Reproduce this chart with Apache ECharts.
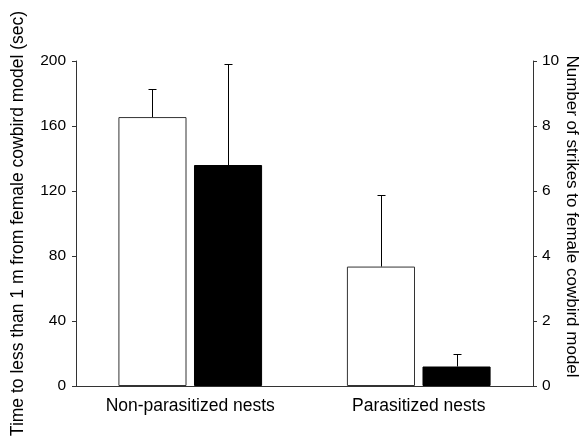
<!DOCTYPE html>
<html><head><meta charset="utf-8">
<script src="https://cdn.jsdelivr.net/npm/echarts@6/dist/echarts.min.js"></script>
<style>html,body{margin:0;padding:0;background:#fff}#c{width:582px;height:438px}</style>
</head><body><div id="c"></div>
<script>
const categories = ['Non-parasitized nests', 'Parasitized nests'];
const timeValues = [165.5, 73.5];      // left axis (sec), white bars
const timeErrors = [17.5, 44];
const strikeValues = [6.8, 0.6];      // right axis, black bars
const strikeErrors = [3.1, 0.4];
const leftTicks = [0, 40, 80, 120, 160, 200];
const rightTicks = [0, 2, 4, 6, 8, 10];

const BAR_FRAC = 0.298, GAP = 0.11;
function errRender(sign, values, errors) {
  return function (params, api) {
    const i = api.value(0);
    const band = api.size([1, 0])[0];
    const bw = band * BAR_FRAC;
    const off = sign * bw * (1 + GAP) / 2;
    const base = api.coord([i, values[i]]);
    const top = api.coord([i, values[i] + errors[i]]);
    const x = Math.round(base[0] + off) + 0.5;
    const yt = Math.round(top[1]) + 0.5;
    const st = { stroke: '#000', lineWidth: 1 };
    return { type: 'group', children: [
      { type: 'line', shape: { x1: x, y1: base[1], x2: x, y2: yt }, style: st },
      { type: 'line', shape: { x1: x - 4, y1: yt, x2: x + 4, y2: yt }, style: st }
    ]};
  };
}
const font = 'Arial, "Liberation Sans", sans-serif';
const chart = echarts.init(document.getElementById('c'));
chart.setOption({
  animation: false,
  grid: { left: 76, right: 49, top: 61, bottom: 52, containLabel: false, outerBoundsMode: 'none' },
  xAxis: { type: 'category', data: categories,
    axisLine: { lineStyle: { color: '#333' } }, axisTick: { show: false },
    axisLabel: { color: '#000', fontSize: 17.5, fontFamily: font, margin: 11 } },
  yAxis: [
    { type: 'value', min: leftTicks[0], max: leftTicks[leftTicks.length - 1], interval: 40,
      name: 'Time to less than 1 m from female cowbird model (sec)', nameLocation: 'middle', nameGap: 49,
      nameTextStyle: { color: '#000', fontSize: 17.5, fontFamily: font },
      axisLine: { show: true, lineStyle: { color: '#333' } }, axisTick: { show: true, length: 4, lineStyle: { color: '#333' } },
      splitLine: { show: false }, axisLabel: { color: '#000', fontSize: 15.5, fontFamily: font, margin: 10 } },
    { type: 'value', min: rightTicks[0], max: rightTicks[rightTicks.length - 1], interval: 2, position: 'right',
      name: 'Number of strikes to female cowbird model', nameLocation: 'middle', nameGap: 30, nameRotate: -90,
      nameMoveOverlap: false,
      nameTextStyle: { color: '#000', fontSize: 17, fontFamily: font, padding: [0, 14, 0, 0] },
      axisLine: { show: true, lineStyle: { color: '#333' } }, axisTick: { show: true, length: 4, lineStyle: { color: '#333' } },
      splitLine: { show: false }, axisLabel: { color: '#000', fontSize: 15.5, fontFamily: font, margin: 9 } }
  ],
  series: [
    { type: 'bar', yAxisIndex: 0, data: timeValues, barWidth: (BAR_FRAC * 100) + '%', barGap: (GAP * 100) + '%',
      itemStyle: { color: '#fff', borderColor: '#333', borderWidth: 1 } },
    { type: 'bar', yAxisIndex: 1, data: strikeValues, barWidth: (BAR_FRAC * 100) + '%', barGap: (GAP * 100) + '%',
      itemStyle: { color: '#000', borderColor: '#000', borderWidth: 1 } },
    { type: 'custom', yAxisIndex: 0, data: timeValues.map((v, i) => [i, v]), renderItem: errRender(-1, timeValues, timeErrors), z: 5 },
    { type: 'custom', yAxisIndex: 1, data: strikeValues.map((v, i) => [i, v]), renderItem: errRender(1, strikeValues, strikeErrors), z: 5 }
  ]
});
</script></body></html>
